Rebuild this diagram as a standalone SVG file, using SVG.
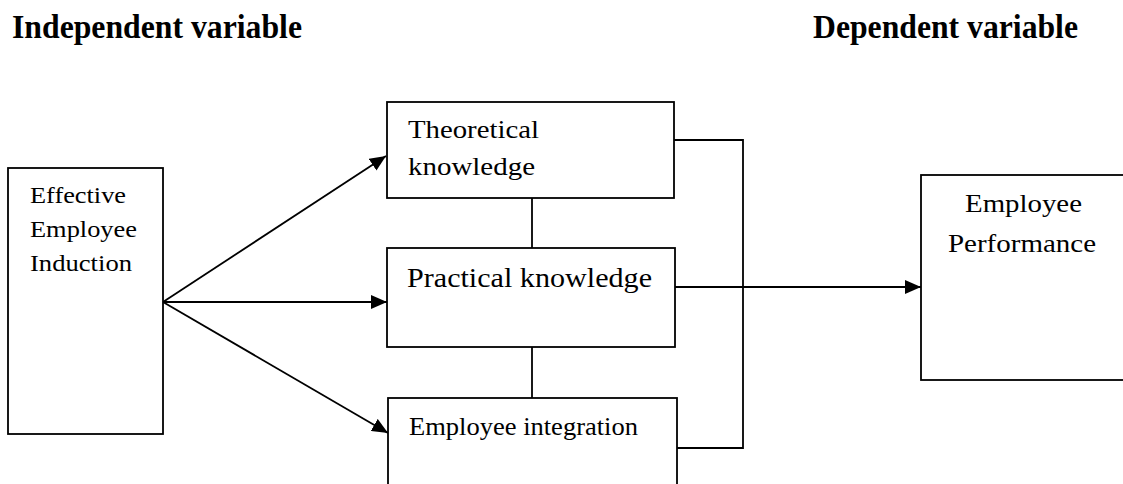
<svg xmlns="http://www.w3.org/2000/svg" width="1123" height="484" viewBox="0 0 1123 484">
  <style>
    .box { fill: #fff; stroke: #000; stroke-width: 1.8; }
    .lbl { font-family: 'Times New Roman', 'Liberation Serif', Times, serif; fill: #000; }
    .hd { font-family: 'Times New Roman', 'Liberation Serif', Times, serif; font-weight: bold; fill: #000; font-size: 34px; }
    .con { fill: none; stroke: #000; stroke-width: 1.8; }
  </style>
  <defs>
    <marker id="arr" markerUnits="userSpaceOnUse" markerWidth="16" markerHeight="14" refX="16" refY="7" orient="auto">
      <path d="M0,0 L16,7 L0,14 z" fill="#000"/>
    </marker>
  </defs>
  <rect width="1123" height="484" fill="#fff"/>

  <g id="headings">
    <text class="hd" x="12" y="38" textLength="290" lengthAdjust="spacingAndGlyphs">Independent variable</text>
    <text class="hd" x="813" y="38" textLength="265" lengthAdjust="spacingAndGlyphs">Dependent variable</text>
  </g>

  <g id="connectors">
    <line class="con" x1="163" y1="302" x2="386" y2="156" marker-end="url(#arr)"/>
    <line class="con" x1="163" y1="302" x2="387" y2="302" marker-end="url(#arr)"/>
    <line class="con" x1="163" y1="302" x2="388" y2="433" marker-end="url(#arr)"/>
    <line class="con" x1="532" y1="198" x2="532" y2="248"/>
    <line class="con" x1="532" y1="347" x2="532" y2="398"/>
    <polyline class="con" points="674,140 743,140 743,448 677,448"/>
    <line class="con" x1="675" y1="287" x2="921" y2="287" marker-end="url(#arr)"/>
  </g>

  <g id="node-induction">
    <rect class="box" x="8" y="168" width="155" height="266"/>
    <text class="lbl" font-size="23" x="30" y="203" textLength="96" lengthAdjust="spacingAndGlyphs">Effective</text>
    <text class="lbl" font-size="23" x="30" y="237" textLength="107" lengthAdjust="spacingAndGlyphs">Employee</text>
    <text class="lbl" font-size="23" x="30" y="271" textLength="102" lengthAdjust="spacingAndGlyphs">Induction</text>
  </g>

  <g id="node-theoretical">
    <rect class="box" x="387" y="102" width="287" height="96"/>
    <text class="lbl" font-size="26" x="408" y="138" textLength="131" lengthAdjust="spacingAndGlyphs">Theoretical</text>
    <text class="lbl" font-size="26" x="408" y="175" textLength="127" lengthAdjust="spacingAndGlyphs">knowledge</text>
  </g>

  <g id="node-practical">
    <rect class="box" x="387" y="248" width="288" height="99"/>
    <text class="lbl" font-size="27" x="407" y="287" textLength="245" lengthAdjust="spacingAndGlyphs">Practical knowledge</text>
  </g>

  <g id="node-integration">
    <rect class="box" x="388" y="398" width="289" height="100"/>
    <text class="lbl" font-size="25" x="409" y="435" textLength="229" lengthAdjust="spacingAndGlyphs">Employee integration</text>
  </g>

  <g id="node-performance">
    <rect class="box" x="921" y="175" width="210" height="205"/>
    <text class="lbl" font-size="26" x="965" y="212" textLength="117" lengthAdjust="spacingAndGlyphs">Employee</text>
    <text class="lbl" font-size="26" x="948" y="252" textLength="148" lengthAdjust="spacingAndGlyphs">Performance</text>
  </g>
</svg>
